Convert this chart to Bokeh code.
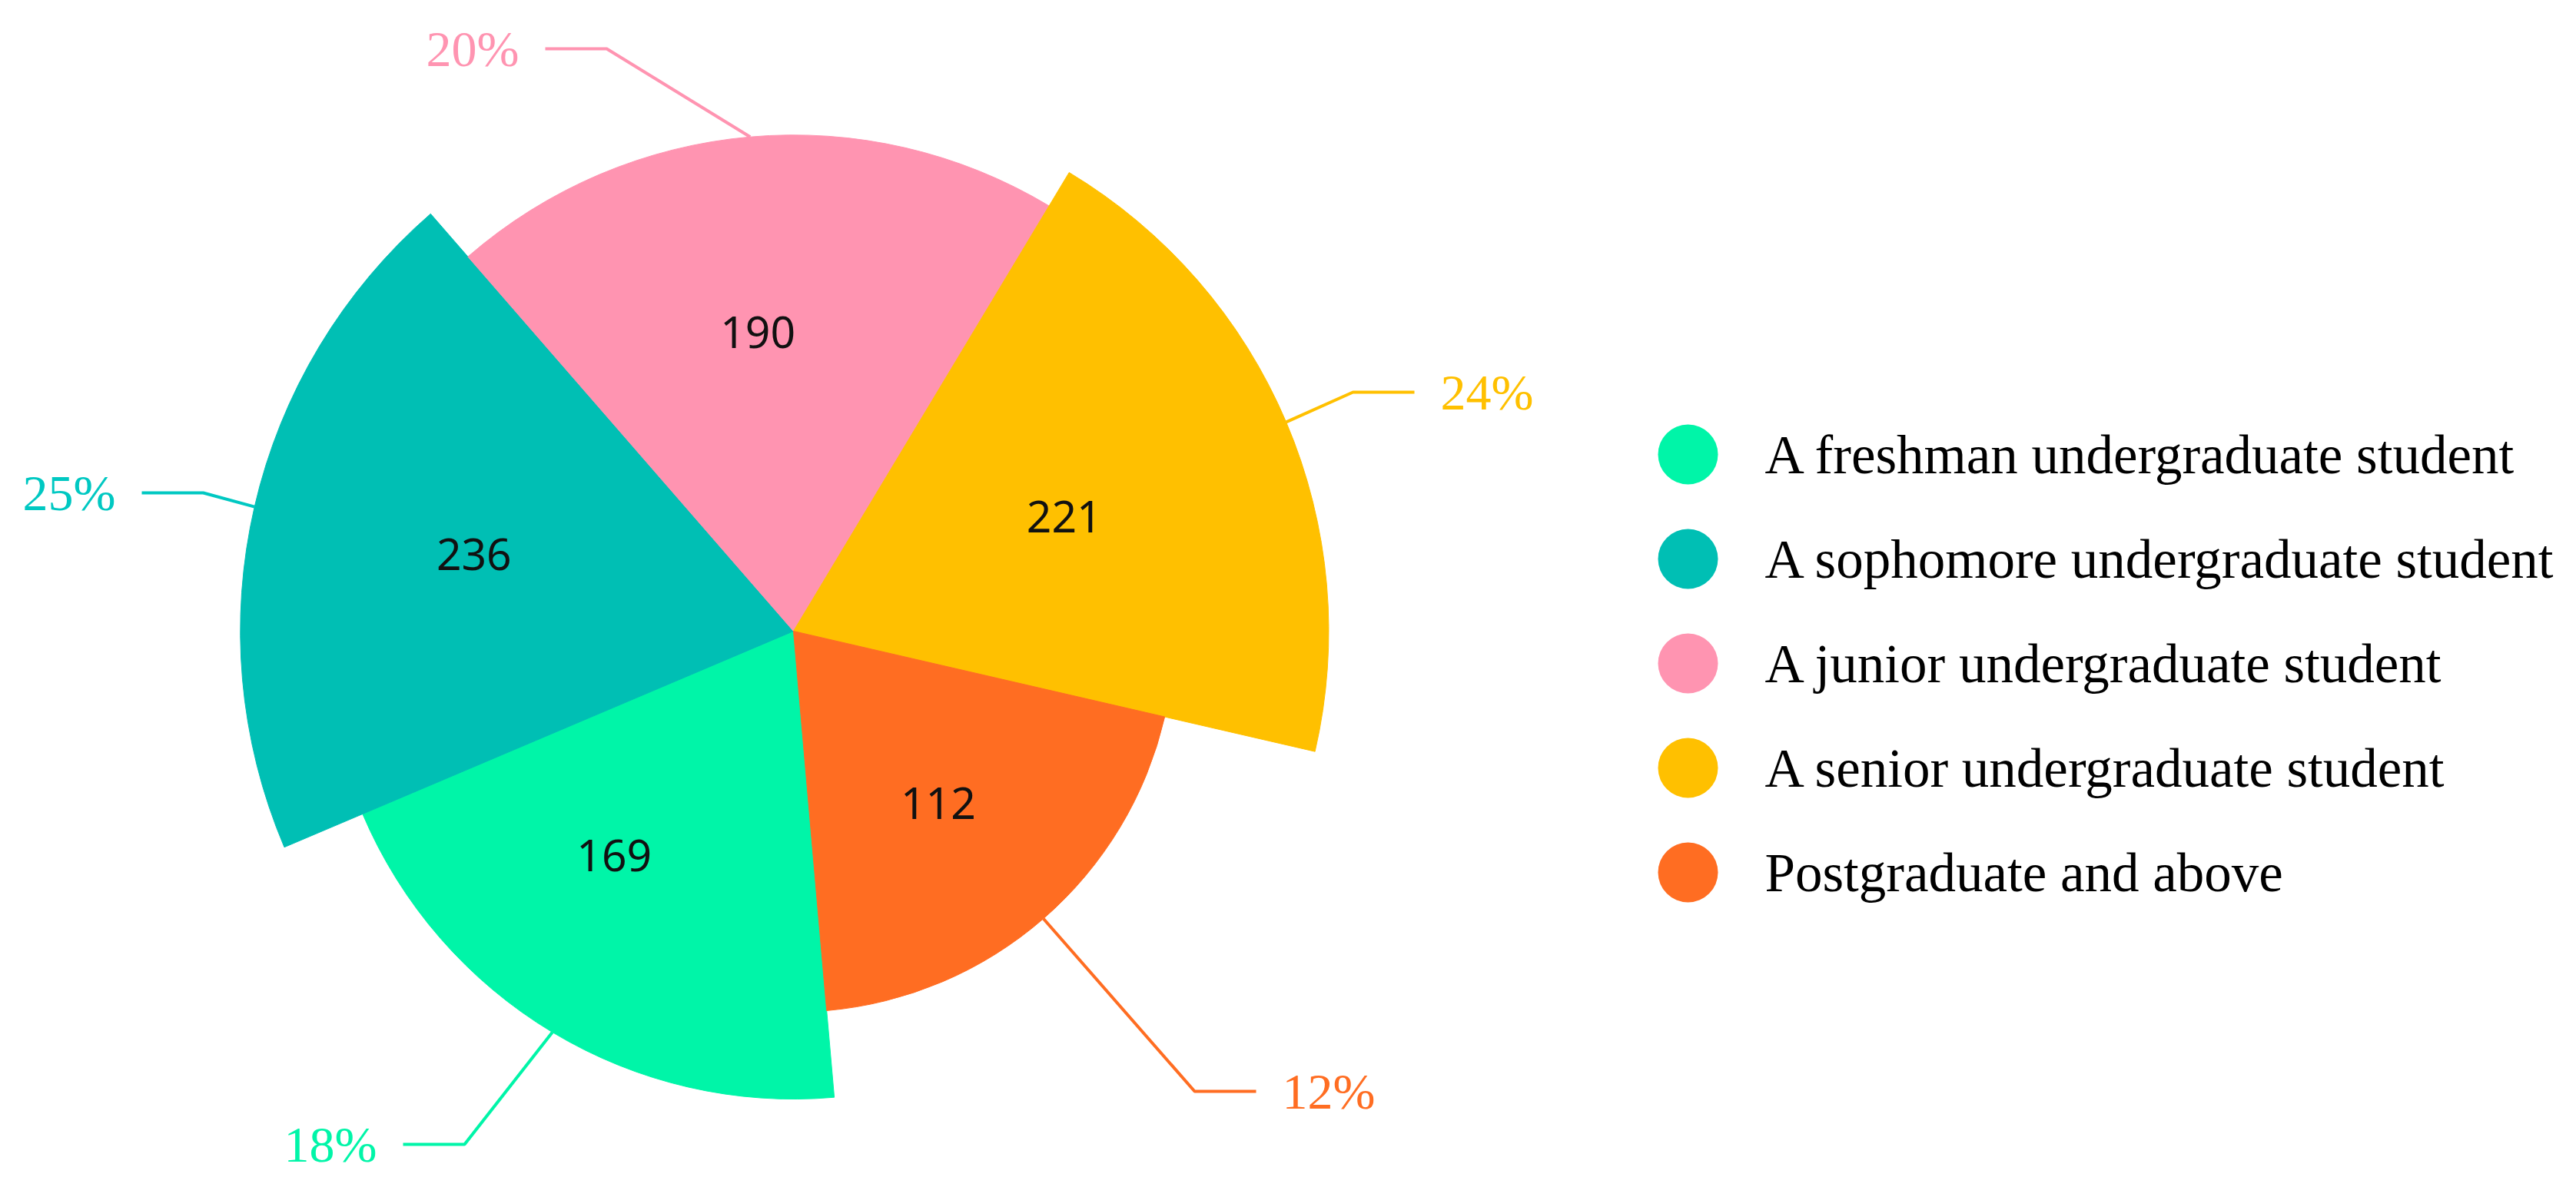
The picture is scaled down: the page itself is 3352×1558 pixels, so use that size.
import numpy as np
from bokeh.plotting import figure
from bokeh.models import Range1d, ColumnDataSource
from bokeh.embed import file_html
from bokeh.resources import INLINE
from bokeh.core.properties import value

# ---------------- data ----------------
categories = [
    "A freshman undergraduate student",
    "A sophomore undergraduate student",
    "A junior undergraduate student",
    "A senior undergraduate student",
    "Postgraduate and above",
]
counts = [169, 236, 190, 221, 112]
colors = ["#00F5A8", "#00BFB4", "#FF94B1", "#FFC000", "#FF6D22"]
label_colors = ["#00F5A8", "#00C8C2", "#FF94B1", "#FFC000", "#FF6D22"]

# ---------------- layout ----------------
W, H = 3336, 1542


def px(X, Y):
    """full-image pixel position -> data coordinates"""
    return X - 8, 1550 - Y


CX, CY = px(1040, 829)
R_SCALE = 46.85          # radius = R_SCALE * sqrt(value)  (area rose)
START = 275.0            # first slice start boundary (deg, math convention)
STEP = 360.0 / len(counts)

# outside label elbows (image px), side of the horizontal leg
elbows = [(612, 1497), (272, 649), (797, 71), (1768, 518), (1562, 1428)]
sides = [-1, -1, -1, 1, 1]
LEG2 = 80
GAP = 34
# inner value label placement: (fraction of radius, angle offset deg)
inner_pos = [(0.614, -7.6), (0.594, -0.5), (0.607, 1.8), (0.549, -0.1), (0.59, -0.9)]

p = figure(width=W, height=H, x_range=Range1d(0, W), y_range=Range1d(0, H),
           output_backend="svg", toolbar_location=None, min_border=0)
p.axis.visible = False
p.grid.visible = False
p.outline_line_color = None
p.background_fill_color = "white"

total = sum(counts)
radii = [R_SCALE * np.sqrt(v) for v in counts]
starts = [np.radians(START - STEP * (i + 1)) for i in range(len(counts))]
ends = [np.radians(START - STEP * i) for i in range(len(counts))]
mids = [(s + e) / 2 for s, e in zip(starts, ends)]

src = ColumnDataSource(dict(r=radii, s=starts, e=ends, c=colors))
p.wedge(x=CX, y=CY, radius="r", start_angle="s", end_angle="e",
        fill_color="c", line_color="c", line_width=1, source=src)

# inner value labels
ix, iy, itxt = [], [], []
for i, v in enumerate(counts):
    f, da = inner_pos[i]
    a = mids[i] + np.radians(da)
    ix.append(CX + f * radii[i] * np.cos(a))
    iy.append(CY + f * radii[i] * np.sin(a))
    itxt.append(str(v))
p.text(x=ix, y=iy, text=itxt, text_font=value("Noto Sans"), text_font_size="57px",
       text_color="#111111", text_align="center", text_baseline="middle")

# outside percentage labels with leader lines
for i, v in enumerate(counts):
    a = mids[i]
    x0 = CX + radii[i] * np.cos(a)
    y0 = CY + radii[i] * np.sin(a)
    ex, ey = px(*elbows[i])
    x2 = ex + sides[i] * LEG2
    p.line(x=[x0, ex, x2], y=[y0, ey, ey], line_color=label_colors[i], line_width=4)
    pct = f"{round(100 * v / total)}%"
    p.text(x=[x2 + sides[i] * GAP], y=[ey], text=[pct],
           text_font=value("Liberation Serif"), text_font_size="66px",
           text_color=label_colors[i],
           text_align="left" if sides[i] > 0 else "right", text_baseline="middle")

# legend
LX, LY0, LDY = 2204, 599, 136
lx, ly = [], []
for i in range(len(categories)):
    x, y = px(LX, LY0 + LDY * i)
    lx.append(x)
    ly.append(y)
p.circle(x=lx, y=ly, radius=39, fill_color=colors, line_color=None)
p.text(x=[x + 100 for x in lx], y=ly, text=categories,
       text_font=value("Liberation Serif"), text_font_size="71px",
       text_color="#000000", text_align="left", text_baseline="middle")

open("out.html", "w").write(file_html(p, INLINE))
